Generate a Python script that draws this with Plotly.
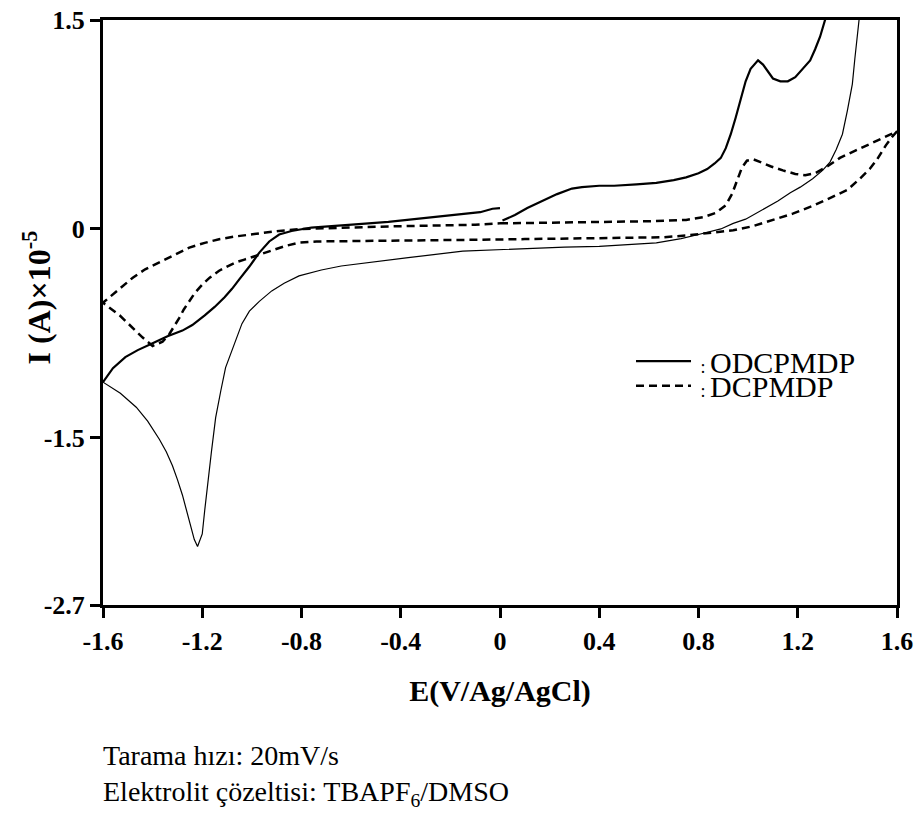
import plotly.graph_objects as go

# ---------------- ODCPMDP cyclic voltammogram (I in units of 1e-5 A) ----------------
# anodic sweep: 0 V -> switching potential
odc_anodic_E = [0.01, 0.06, 0.11, 0.17, 0.23, 0.29, 0.33, 0.40, 0.46, 0.55, 0.63, 0.70,
                0.75, 0.80, 0.835, 0.865, 0.89, 0.91, 0.93, 0.95, 0.97, 0.99, 1.01, 1.04,
                1.06, 1.08, 1.10, 1.13, 1.16, 1.19, 1.22, 1.25, 1.27, 1.29, 1.31, 1.34, 1.47]
odc_anodic_I = [0.06, 0.10, 0.15, 0.20, 0.25, 0.29, 0.30, 0.31, 0.31, 0.32, 0.33, 0.35,
                0.37, 0.40, 0.43, 0.47, 0.51, 0.58, 0.68, 0.80, 0.93, 1.06, 1.15, 1.21,
                1.18, 1.13, 1.08, 1.06, 1.06, 1.09, 1.15, 1.21, 1.29, 1.38, 1.50, 1.75, 3.00]

# cathodic sweep: switching potential -> -1.6 V
odc_cathodic_E = [1.47, 1.447, 1.43, 1.42, 1.40, 1.38, 1.355, 1.33, 1.30, 1.26, 1.21, 1.17,
                  1.12, 1.07, 1.03, 0.99, 0.94, 0.89, 0.80, 0.73, 0.63, 0.52, 0.40, 0.26,
                  0.10, -0.01, -0.15, -0.37, -0.50, -0.64, -0.72, -0.81, -0.87, -0.92,
                  -0.97, -1.01, -1.04, -1.065, -1.085, -1.106, -1.125, -1.146, -1.163,
                  -1.179, -1.19, -1.20, -1.219, -1.232, -1.245, -1.262, -1.28, -1.30,
                  -1.32, -1.345, -1.373, -1.42, -1.466, -1.53, -1.60]
odc_cathodic_I = [3.00, 1.50, 1.22, 1.04, 0.85, 0.68, 0.57, 0.48, 0.42, 0.36, 0.30, 0.26,
                  0.20, 0.15, 0.11, 0.07, 0.04, 0.0, -0.04, -0.07, -0.10, -0.11, -0.125,
                  -0.13, -0.14, -0.146, -0.16, -0.206, -0.235, -0.266, -0.295, -0.337,
                  -0.39, -0.445, -0.52, -0.59, -0.68, -0.80, -0.90, -0.996, -1.16, -1.355,
                  -1.60, -1.833, -2.02, -2.19, -2.28, -2.23, -2.14, -2.02, -1.91, -1.80,
                  -1.70, -1.60, -1.51, -1.38, -1.28, -1.18, -1.10]

# return sweep: -1.6 V -> 0 V
odc_return_E = [-1.60, -1.56, -1.51, -1.46, -1.40, -1.34, -1.28, -1.24, -1.19, -1.15,
                -1.11, -1.08, -1.05, -1.01, -0.97, -0.93, -0.89, -0.84, -0.76, -0.66,
                -0.57, -0.45, -0.30, -0.18, -0.08, -0.03, 0.0]
odc_return_I = [-1.10, -1.00, -0.92, -0.87, -0.82, -0.77, -0.73, -0.69, -0.62, -0.56,
                -0.49, -0.43, -0.36, -0.27, -0.17, -0.09, -0.04, -0.015, 0.01, 0.025,
                0.035, 0.05, 0.08, 0.10, 0.12, 0.145, 0.15]

# ---------------- DCPMDP cyclic voltammogram ----------------
dc_anodic_E = [0.0, 0.2, 0.4, 0.6, 0.75, 0.82, 0.87, 0.91, 0.935, 0.955, 0.975, 0.995,
               1.02, 1.05, 1.09, 1.14, 1.19, 1.23, 1.27, 1.32, 1.37, 1.43, 1.49, 1.55, 1.6]
dc_anodic_I = [0.04, 0.045, 0.05, 0.055, 0.065, 0.085, 0.115, 0.17, 0.25, 0.35, 0.44, 0.49,
               0.50, 0.48, 0.45, 0.42, 0.395, 0.385, 0.40, 0.45, 0.51, 0.56, 0.61, 0.66, 0.70]

dc_cathodic_E = [1.58, 1.555, 1.52, 1.49, 1.45, 1.40, 1.34, 1.26, 1.18, 1.10, 1.02, 0.94,
                 0.86, 0.76, 0.66, 0.50, 0.32, 0.10, -0.10, -0.30, -0.50, -0.64, -0.74,
                 -0.81, -0.86, -0.905, -0.95, -0.985, -1.03, -1.065, -1.10, -1.132, -1.17,
                 -1.20, -1.23, -1.252, -1.275, -1.293, -1.315, -1.333, -1.36, -1.40,
                 -1.44, -1.48, -1.533, -1.6]
dc_cathodic_I = [0.66, 0.60, 0.50, 0.43, 0.36, 0.28, 0.23, 0.165, 0.11, 0.065, 0.02, -0.01,
                 -0.026, -0.045, -0.06, -0.065, -0.07, -0.073, -0.078, -0.081, -0.083,
                 -0.086, -0.09, -0.098, -0.12, -0.146, -0.17, -0.194, -0.22, -0.24, -0.27,
                 -0.30, -0.35, -0.40, -0.46, -0.52, -0.58, -0.64, -0.70, -0.756, -0.81,
                 -0.84, -0.78, -0.71, -0.62, -0.53]

dc_return_E = [-1.573, -1.53, -1.48, -1.43, -1.373, -1.31, -1.252, -1.19, -1.132, -1.07,
               -1.01, -0.95, -0.89, -0.80, -0.64, -0.45, -0.25, -0.10, 0.0]
dc_return_I = [-0.49, -0.42, -0.35, -0.29, -0.24, -0.18, -0.134, -0.10, -0.074, -0.055,
               -0.04, -0.027, -0.014, 0.0, 0.01, 0.018, 0.025, 0.03, 0.04]

# ---------------- axis ticks ----------------
x_tick_vals = [-1.6, -1.2, -0.8, -0.4, 0, 0.4, 0.8, 1.2, 1.6]
x_tick_text = ["-1.6", "-1.2", "-0.8", "-0.4", "0", "0.4", "0.8", "1.2", "1.6"]
y_tick_vals = [1.5, 0, -1.5, -2.7]
y_tick_text = ["1.5", "0", "-1.5", "-2.7"]

SERIF = "Liberation Serif"
COLON = "<span style='font-size:18px'>&nbsp;:&nbsp;</span>"

fig = go.Figure()

fig.add_trace(go.Scatter(
    x=odc_anodic_E + [None] + odc_return_E,
    y=odc_anodic_I + [None] + odc_return_I,
    mode="lines", line=dict(color="black", width=2.2),
    name=COLON + "ODCPMDP", legend="legend",
))
fig.add_trace(go.Scatter(
    x=odc_cathodic_E, y=odc_cathodic_I,
    mode="lines", line=dict(color="black", width=1.2),
    showlegend=False, name="ODCPMDP",
))
fig.add_trace(go.Scatter(
    x=dc_anodic_E + dc_cathodic_E + dc_return_E,
    y=dc_anodic_I + dc_cathodic_I + dc_return_I,
    mode="lines", line=dict(color="black", width=2.5, dash="8px,5px"),
    name=COLON + "DCPMDP", legend="legend2",
))

axis_common = dict(
    showgrid=False, zeroline=False, showline=True, linecolor="black", linewidth=3,
    mirror=True, ticks="outside", ticklen=10, tickwidth=3, tickcolor="black",
    automargin=False,
    tickfont=dict(family=SERIF, size=26, color="black", weight="bold"),
)

legend_common = dict(xanchor="left", yanchor="middle", bgcolor="rgba(0,0,0,0)",
                     itemwidth=55, font=dict(family=SERIF, size=30, color="black"))

fig.update_layout(
    width=920, height=818,
    margin=dict(l=103, r=23, t=20, b=213, autoexpand=False),
    paper_bgcolor="white", plot_bgcolor="white",
    xaxis=dict(range=[-1.6, 1.6], tickvals=x_tick_vals, ticktext=x_tick_text,
               ticklabelstandoff=1,
               title=dict(text="<b>E(V/Ag/AgCl)</b>", standoff=25,
                          font=dict(family=SERIF, size=30, color="black")),
               **axis_common),
    yaxis=dict(range=[-2.7, 1.5], tickvals=y_tick_vals, ticktext=y_tick_text,
               **axis_common),
    legend=dict(x=0.665, y=0.417, **legend_common),
    legend2=dict(x=0.665, y=0.375, **legend_common),
    showlegend=True,
)

fig.add_annotation(
    text="<b>I (A)×10<sup>-5</sup></b>", textangle=-90,
    xref="paper", yref="paper", x=-0.083, y=0.526,
    xanchor="center", yanchor="middle", showarrow=False,
    font=dict(family=SERIF, size=32, color="black"),
)
fig.add_annotation(
    text="Tarama hızı: 20mV/s",
    xref="paper", yref="paper", x=-0.0025, y=-0.258,
    xanchor="left", yanchor="middle", showarrow=False,
    font=dict(family=SERIF, size=28, color="black"),
)
fig.add_annotation(
    text="Elektrolit çözeltisi: TBAPF<sub>6</sub>/DMSO",
    xref="paper", yref="paper", x=-0.0025, y=-0.323,
    xanchor="left", yanchor="middle", showarrow=False,
    font=dict(family=SERIF, size=28, color="black"),
)

fig.write_html("out.html")
